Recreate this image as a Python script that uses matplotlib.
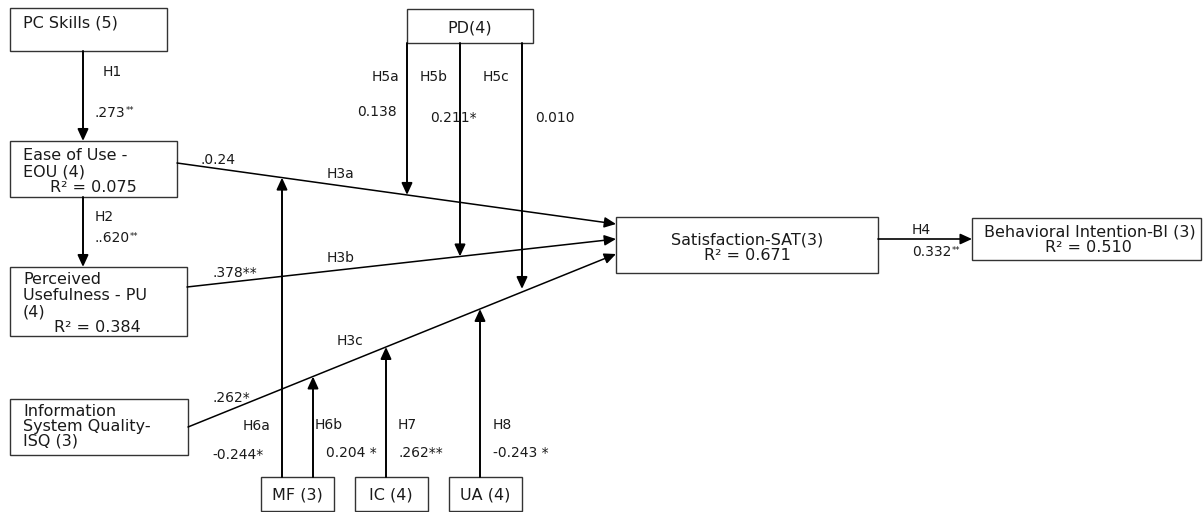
import matplotlib
matplotlib.use("Agg")
import matplotlib.pyplot as plt
from matplotlib.patches import Rectangle

plt.rcParams['font.family'] = ['DejaVu Sans']

# constructs (name lines) and explained variance
box_names = ["PC Skills (5)", "Ease of Use -\nEOU (4)", "Perceived\nUsefulness - PU\n(4)",
             "Information\nSystem Quality-\nISQ (3)", "PD(4)", "MF (3)", "IC (4)", "UA (4)",
             "Satisfaction-SAT(3)", "Behavioral Intention-BI (3)"]
r_squared = [None, 0.075, 0.384, None, None, None, None, None, 0.671, 0.510]

# hypotheses and path coefficients
hypotheses = ["H1", "H2", "H3a", "H3b", "H3c", "H4", "H5a", "H5b", "H5c", "H6a", "H6b", "H7", "H8"]
coef_values = [".273", "..620", ".0.24", ".378", ".262", "0.332", "0.138", "0.211", "0.010",
               "-0.244", "0.204 ", ".262", "-0.243 "]
coef_stars = ["**", "**", "", "**", "*", "**", "", "*", "", "*", "*", "**", "*"]
small_stars = [True, True, False, False, False, True, False, False, False, False, False, False, False]

# ---- layout (pixel space) ----
boxes = [(10, 8, 167, 51), (10, 141, 177, 197), (10, 267, 187, 336), (10, 399, 188, 455),
         (407, 9, 533, 43), (261, 477, 334, 511), (355, 477, 428, 511), (449, 477, 522, 511),
         (616, 217, 878, 273), (972, 218, 1201, 260)]
# line anchor for text: (ha, x, [y per line])
text_pos = [("left", 23, [23]), ("left", 23, [155, 172]), ("left", 23, [280, 296, 312]),
            ("left", 23, [412, 427, 441]), ("center", 470, [28]), ("center", 297, [495]),
            ("center", 391, [495]), ("center", 485, [495]),
            ("center", 747, [240]), ("center", 1090, [232])]
r2_pos = [None, (93, 188), (97, 327), None, None, None, None, None, (747, 256), (1088, 248)]

# main paths
p_h3a = ((177, 163), (616, 224))
p_h3b = ((187, 287), (616, 239))
p_h3c = ((188, 427), (616, 254))


def y_on(path, x):
    (x0, y0), (x1, y1) = path
    return y0 + (y1 - y0) * (x - x0) / (x1 - x0)


arrows = [((83, 51), (83, 141), 1.4), ((83, 197), (83, 267), 1.4),
          (p_h3a[0], p_h3a[1], 1.1), (p_h3b[0], p_h3b[1], 1.1), (p_h3c[0], p_h3c[1], 1.1),
          ((878, 239), (972, 239), 1.2),
          ((407, 43), (407, y_on(p_h3a, 407)), 1.4),
          ((460, 43), (460, y_on(p_h3b, 460)), 1.4),
          ((522, 43), (522, y_on(p_h3c, 522) - 3), 1.4),
          ((282, 477), (282, y_on(p_h3a, 282)), 1.4),
          ((313, 477), (313, y_on(p_h3c, 313)), 1.4),
          ((386, 477), (386, y_on(p_h3c, 386)), 1.4),
          ((480, 477), (480, y_on(p_h3c, 480)), 1.4)]

# label positions: (x, y, ha) for hypothesis and coefficient
hyp_pos = [(103, 72, "left"), (95, 217, "left"), (327, 174, "left"), (327, 258, "left"),
           (337, 341, "left"), (912, 230, "left"), (399, 77, "right"), (420, 77, "left"),
           (483, 77, "left"), (243, 426, "left"), (315, 425, "left"), (398, 425, "left"),
           (493, 425, "left")]
coef_pos = [(95, 113), (95, 238), (201, 160), (212, 273), (212, 398), (912, 252), (357, 112),
            (430, 118), (535, 118), (212, 455), (326, 453), (398, 453), (493, 453)]

fig = plt.figure(figsize=(12.03, 5.12), dpi=100)
ax = fig.add_axes([0, 0, 1, 1])
ax.set_xlim(0, 1203)
ax.set_ylim(512, 0)
ax.axis('off')

box_fs = 11.5
lab_fs = 10
ink = '#1a1a1a'

for (x0, y0, x1, y1) in boxes:
    ax.add_patch(Rectangle((x0, y0), x1 - x0, y1 - y0, fill=False, ec='#333333', lw=1.0))

for name, (ha, x, ys), r2, rp in zip(box_names, text_pos, r_squared, r2_pos):
    for line, y in zip(name.split("\n"), ys):
        ax.text(x, y, line, ha=ha, va='center', fontsize=box_fs, color=ink)
    if r2 is not None:
        ax.text(rp[0], rp[1], "R\u00b2 = %.3f" % r2, ha='center', va='center',
                fontsize=box_fs, color=ink)

for start, end, lw in arrows:
    ax.annotate("", xy=end, xytext=start,
                arrowprops=dict(arrowstyle='-|>,head_length=0.7,head_width=0.32',
                                lw=lw, color='black', shrinkA=0, shrinkB=0,
                                mutation_scale=10))

for h, (x, y, ha) in zip(hypotheses, hyp_pos):
    ax.text(x, y, h, ha=ha, va='center', fontsize=lab_fs, color=ink)

fig.canvas.draw()
renderer = fig.canvas.get_renderer()
inv = ax.transData.inverted()
for val, stars, small, (x, y) in zip(coef_values, coef_stars, small_stars, coef_pos):
    if not small:
        ax.text(x, y, val + stars, ha='left', va='center', fontsize=lab_fs, color=ink)
        continue
    t = ax.text(x, y, val, ha='left', va='center', fontsize=lab_fs, color=ink)
    bb = t.get_window_extent(renderer)
    xe = inv.transform((bb.x1, bb.y0))[0]
    ax.text(xe, y - 2, stars, ha='left', va='center', fontsize=6, color=ink)

fig.savefig("out.png", dpi=100)
